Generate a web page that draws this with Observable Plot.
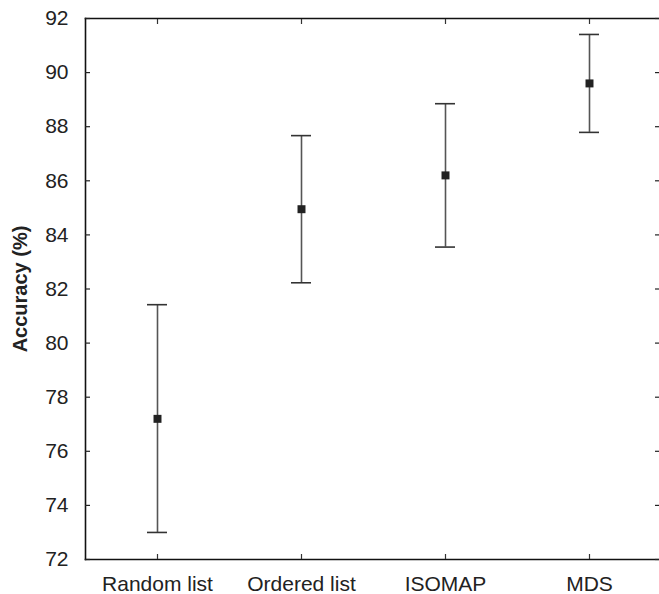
<!DOCTYPE html>
<html>
<head>
<meta charset="utf-8">
<script src="https://cdn.jsdelivr.net/npm/d3@7"></script>
<script src="https://cdn.jsdelivr.net/npm/@observablehq/plot@0.6"></script>
<style>
  html, body { margin: 0; padding: 0; background: #fff; overflow: hidden; }
  #chart svg { font-family: "Liberation Sans", Arial, sans-serif; max-width: none !important; overflow: hidden !important; }
</style>
</head>
<body>
<div id="chart"></div>
<script>
const methods = ["Random list", "Ordered list", "ISOMAP", "MDS"];
const means = [77.2, 84.95, 86.2, 89.6];
const lows = [73.0, 82.23, 83.55, 87.79];
const highs = [81.42, 87.67, 88.85, 91.41];
const yTicks = [72, 74, 76, 78, 80, 82, 84, 86, 88, 90, 92];
const yLabel = "Accuracy (%)";

const data = methods.map((m, i) => ({ method: m, mean: means[i], lo: lows[i], hi: highs[i] }));

const pi = 1 - 20 / 144;
const chart = Plot.plot({
  width: 659,
  height: 594,
  marginLeft: 85,
  marginRight: 0,
  marginTop: 18,
  marginBottom: 35,
  style: { fontSize: "21px", color: "#222", background: "#fff", overflow: "hidden", maxWidth: "none" },
  x: { type: "band", domain: methods, range: [85, 661], paddingInner: pi, paddingOuter: pi / 2, align: 0.5, label: null },
  y: { domain: [72, 92], label: null },
  marks: [
    Plot.frame({ anchor: "left", stroke: "#111", strokeWidth: 1.6 }),
    Plot.frame({ anchor: "top", stroke: "#111", strokeWidth: 1.6 }),
    Plot.frame({ anchor: "bottom", stroke: "#111", strokeWidth: 1.6 }),
    Plot.axisY(yTicks, { anchor: "left", tickSize: 0, tickPadding: 17, label: null, fill: "#222" }),
    Plot.axisY(yTicks, { anchor: "left", tickSize: -5, text: null, label: null, stroke: "#222", strokeWidth: 1.2 }),
    Plot.axisY(yTicks, { anchor: "right", tickSize: -5, text: null, label: null, stroke: "#222", strokeWidth: 1.2 }),
    Plot.axisX({ anchor: "bottom", tickSize: 0, tickPadding: 17, label: null, fill: "#222" }),
    Plot.axisX({ anchor: "bottom", tickSize: -5, text: null, label: null, stroke: "#333", strokeWidth: 1.2 }),
    Plot.axisX({ anchor: "top", tickSize: -5, text: null, label: null, stroke: "#333", strokeWidth: 1.2 }),
    Plot.text([yLabel], { frameAnchor: "left", textAnchor: "middle", rotate: -90, dx: -65, text: d => d, fontWeight: "bold", fontSize: 20, fill: "#222" }),
    Plot.ruleX(data, { x: "method", y1: "lo", y2: "hi", stroke: "#555", strokeWidth: 1.6 }),
    Plot.tickY(data, { x: "method", y: "lo", stroke: "#333", strokeWidth: 1.6 }),
    Plot.tickY(data, { x: "method", y: "hi", stroke: "#333", strokeWidth: 1.6 }),
    Plot.dot(data, { x: "method", y: "mean", symbol: "square", r: 4.5, fill: "#222", stroke: null })
  ]
});
document.getElementById("chart").appendChild(chart);
</script>
</body>
</html>
